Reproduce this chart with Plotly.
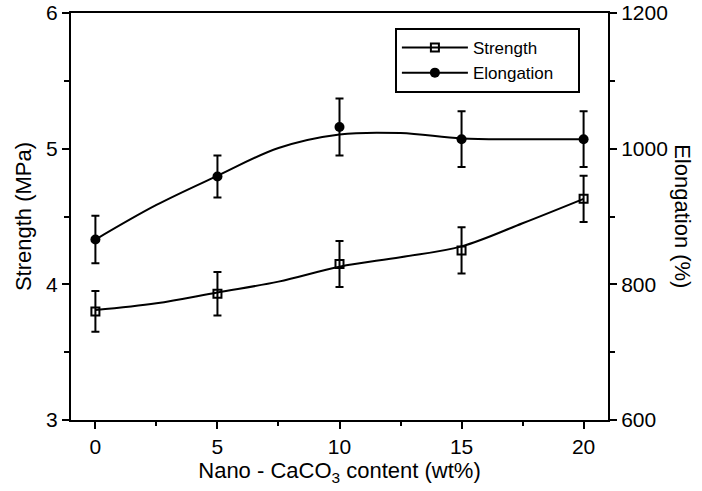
import plotly.graph_objects as go

# ---- data ----
content = [0, 5, 10, 15, 20]
strength = [3.80, 3.93, 4.15, 4.25, 4.63]
strength_err = [0.15, 0.16, 0.17, 0.17, 0.17]
elongation = [866, 959, 1032, 1014, 1014]
elongation_err = [35, 31, 42, 41, 41]

# smoothed fit curves as drawn in the reference
fit_x = [0, 2.5, 5, 7.5, 10, 12.5, 15, 17.5, 20]
strength_fit = [3.81, 3.86, 3.94, 4.02, 4.13, 4.20, 4.28, 4.45, 4.63]
elongation_fit = [866, 917, 960, 1001, 1021, 1023, 1015, 1014, 1014]

x_ticks = [0, 5, 10, 15, 20]
y1_ticks = [3, 4, 5, 6]
y2_ticks = [600, 800, 1000, 1200]

FONT = "Liberation Sans, Arial, sans-serif"
BLACK = "black"

fig = go.Figure()

# fit curves
fig.add_trace(go.Scatter(x=fit_x, y=strength_fit, mode="lines",
                         line=dict(color=BLACK, width=2, shape="spline", smoothing=1),
                         showlegend=False, hoverinfo="skip"))
fig.add_trace(go.Scatter(x=fit_x, y=elongation_fit, mode="lines", yaxis="y2",
                         line=dict(color=BLACK, width=2, shape="spline", smoothing=1),
                         showlegend=False, hoverinfo="skip"))

# data points with error bars
fig.add_trace(go.Scatter(x=content, y=strength, mode="markers",
                         marker=dict(symbol="square-open", size=8, color=BLACK,
                                     line=dict(width=2, color=BLACK)),
                         error_y=dict(type="data", array=strength_err, color=BLACK,
                                      thickness=2, width=4),
                         showlegend=False))
fig.add_trace(go.Scatter(x=content, y=elongation, mode="markers", yaxis="y2",
                         marker=dict(symbol="circle", size=10, color=BLACK),
                         error_y=dict(type="data", array=elongation_err, color=BLACK,
                                      thickness=2, width=4),
                         showlegend=False))

# legend entries
fig.add_trace(go.Scatter(x=[None], y=[None], mode="lines+markers",
                         name="Strength",
                         line=dict(color=BLACK, width=2),
                         marker=dict(symbol="square-open", size=8, color=BLACK,
                                     line=dict(width=2, color=BLACK))))
fig.add_trace(go.Scatter(x=[None], y=[None], mode="lines+markers",
                         name="Elongation&nbsp;&nbsp;&nbsp;&nbsp;",
                         line=dict(color=BLACK, width=2),
                         marker=dict(symbol="circle", size=10, color=BLACK)))

axis_common = dict(showgrid=False, zeroline=False, showline=True, linecolor=BLACK,
                   linewidth=2, ticks="outside", tickcolor=BLACK, tickwidth=2,
                   ticklen=7, automargin=False,
                   tickfont=dict(family=FONT, size=21, color=BLACK))

fig.update_layout(
    width=702, height=491,
    margin=dict(l=70.5, r=93.5, t=13, b=71),
    paper_bgcolor="white", plot_bgcolor="white",
    font=dict(family=FONT, color=BLACK),
    xaxis=dict(range=[-1, 21], tickvals=x_ticks, mirror=True,
               minor=dict(dtick=2.5, tick0=0, ticks="outside", ticklen=4,
                          tickwidth=2, tickcolor=BLACK),
               title=dict(text="Nano - CaCO<sub>3</sub> content (wt%)",
                          font=dict(family=FONT, size=22, color=BLACK), standoff=4),
               **axis_common),
    yaxis=dict(range=[3, 6], tickvals=y1_ticks,
               minor=dict(dtick=0.5, tick0=3, ticks="outside", ticklen=5,
                          tickwidth=2, tickcolor=BLACK),
               title=dict(text="Strength (MPa)",
                          font=dict(family=FONT, size=22, color=BLACK), standoff=8),
               **axis_common),
    yaxis2=dict(range=[600, 1200], tickvals=y2_ticks, overlaying="y", side="right",
                minor=dict(dtick=100, tick0=600, ticks="outside", ticklen=5,
                           tickwidth=2, tickcolor=BLACK),
                **axis_common),
    legend=dict(x=(395 - 70.5) / 538, y=1 - (28 - 13) / 407, xanchor="left",
                yanchor="top", bordercolor=BLACK, borderwidth=2, bgcolor="white",
                font=dict(family=FONT, size=17, color=BLACK),
                itemwidth=66, tracegroupgap=0),
    annotations=[dict(text="Elongation (%)", textangle=90, xref="paper", yref="paper",
                      x=(683 - 70.5) / 538, y=0.5, showarrow=False,
                      xanchor="center", yanchor="middle",
                      font=dict(family=FONT, size=22, color=BLACK))],
)

fig.write_html("out.html",
               config={"displayModeBar": False},
               post_script="document.body.style.margin='0';document.body.style.overflow='hidden';")
